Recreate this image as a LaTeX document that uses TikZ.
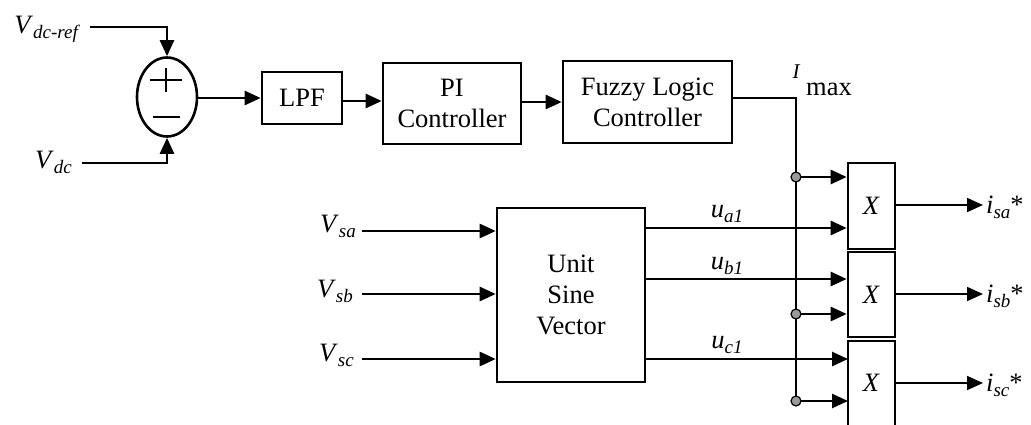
\documentclass[tikz,border=0pt]{standalone}
\usepackage{fontspec}
\setmainfont{Liberation Serif}
\usetikzlibrary{arrows.meta,shapes.geometric}
\newcommand{\sbs}[1]{\raisebox{-0.22em}{\fontsize{19}{19}\selectfont\itshape #1}}
\tikzset{
  box/.style={draw, line width=2.6pt, align=center, inner sep=0pt, font=\fontsize{26.5}{31}\selectfont},
  wire/.style={line width=2.6pt},
  thinw/.style={line width=1.8pt},
  arr/.style={-{Triangle[length=16pt,width=14pt]}},
  jdot/.style={circle, fill=gray!80, draw, line width=1.2pt, minimum size=10pt, inner sep=0pt},
  lbl/.style={font=\fontsize{26.5}{31}\selectfont, inner sep=0pt}
}
\begin{document}
\begin{tikzpicture}[x=1pt,y=-1pt]
\useasboundingbox (0,0) rectangle (1031,424);
% summing junction
\node[ellipse, draw, line width=2.6pt, minimum width=60pt, minimum height=79pt, inner sep=0pt] (sum) at (167,97) {};
\draw[line width=2.4pt] (150,80) -- (182,80) (166,68) -- (166,92);
\draw[line width=2.8pt] (153,117) -- (180,117);
% reference inputs
\node[lbl, anchor=base east] (vref) at (78,33) {\textit{V}\sbs{dc-ref}};
\node[lbl, anchor=base east] (vdc) at (72,168) {\textit{V}\sbs{dc}};
\coordinate (r0) at (90,27);
\coordinate (d0) at (82,163);
\draw[wire, arr] (r0) -| (sum.north);
\draw[wire, arr] (d0) -| (sum.south);
% forward chain
\node[box, minimum width=80pt, minimum height=52pt] (lpf) at (302,98) {LPF};
\node[box, minimum width=138pt, minimum height=81pt] (pi) at (452,103.5) {PI\\Controller};
\node[box, minimum width=169pt, minimum height=82pt] (flc) at (647.5,102) {Fuzzy Logic\\Controller};
\coordinate (s0) at (197,98);
\draw[wire, arr] (s0) -- (s0 -| lpf.west);
\coordinate (a1) at (342,101);
\draw[wire, arr] (a1) -- (a1 -| pi.west);
\coordinate (a2) at (521,102);
\draw[wire, arr] (a2) -- (a2 -| flc.west);
% Imax
\node[lbl, font=\fontsize{21}{21}\selectfont\itshape] (ilab) at (796,72) {I};
\node[lbl, anchor=base west] (maxlab) at (806,95) {max};
\coordinate (top) at (796,98);
\coordinate (j1) at (796,177);
\coordinate (j2) at (796,314);
\coordinate (j3) at (796,401);
\draw[thinw] (flc.east |- top) -- (top) -- (j3);
% unit sine vector
\node[box, minimum width=148pt, minimum height=174pt] (usv) at (571,295) {Unit\\Sine\\Vector};
\node[lbl, anchor=base east] (vsa) at (356,232) {\textit{V}\sbs{sa}};
\node[lbl, anchor=base east] (vsb) at (353,297) {\textit{V}\sbs{sb}};
\node[lbl, anchor=base east] (vsc) at (354,361) {\textit{V}\sbs{sc}};
\coordinate (ia) at (362,231);
\coordinate (ib) at (362,294);
\coordinate (ic) at (362,359);
\draw[wire, arr] (ia) -- (ia -| usv.west);
\draw[wire, arr] (ib) -- (ib -| usv.west);
\draw[wire, arr] (ic) -- (ic -| usv.west);
% multipliers
\node[box, minimum width=47pt, minimum height=86pt] (x1) at (871.5,206) {\textit{X}};
\node[box, minimum width=47pt, minimum height=85pt] (x2) at (871.5,294.5) {\textit{X}};
\node[lbl] (x3) at (871.5,383) {\textit{X}};
\draw[line width=2.6pt] (848,432) |- (895,341) -- (895,432);
% u signals
\coordinate (ua) at (645,228);
\coordinate (ub) at (645,279);
\coordinate (uc) at (645,359);
\draw[wire, arr] (ua) -- (ua -| x1.west);
\draw[wire, arr] (ub) -- (ub -| x2.west);
\draw[wire, arr] (uc) -- (848,359);
\node[lbl] (ual) at (727,214) {\textit{u}\sbs{a1}};
\node[lbl] (ubl) at (727,266) {\textit{u}\sbs{b1}};
\node[lbl] (ucl) at (727,345) {\textit{u}\sbs{c1}};
% Imax branches
\draw[wire, arr] (j1) -- (j1 -| x1.west);
\draw[wire, arr] (j2) -- (j2 -| x2.west);
\draw[wire, arr] (j3) -- (848,401);
\node[jdot] at (j1) {};
\node[jdot] at (j2) {};
\node[jdot] at (j3) {};
% outputs
\coordinate (o1) at (983,205);
\coordinate (o2) at (983,294);
\coordinate (o3) at (983,383);
\draw[thinw, arr] (x1.east |- o1) -- (o1);
\draw[thinw, arr] (x2.east |- o2) -- (o2);
\draw[thinw, arr] (895,383) -- (o3);
\node[lbl, anchor=base west] (isa) at (986,213) {\textit{i}\sbs{sa}*};
\node[lbl, anchor=base west] (isb) at (986,302) {\textit{i}\sbs{sb}*};
\node[lbl, anchor=base west] (isc) at (986,391) {\textit{i}\sbs{sc}*};
\end{tikzpicture}
\end{document}
